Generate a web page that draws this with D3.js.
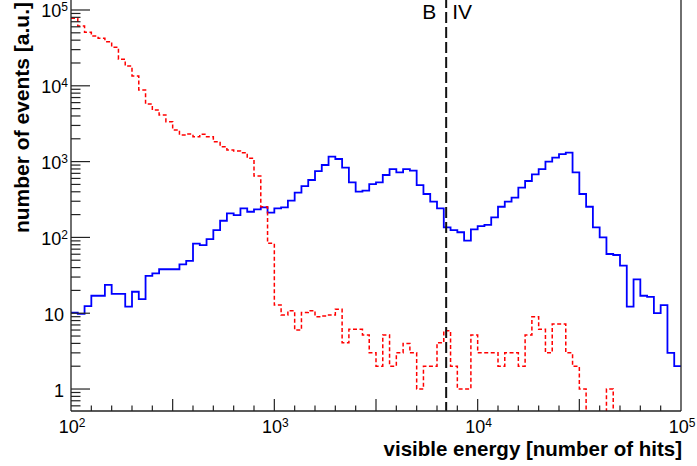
<!DOCTYPE html>
<html>
<head>
<meta charset="utf-8">
<script src="https://cdn.jsdelivr.net/npm/d3@7/dist/d3.min.js"></script>
<style>
  html, body { margin: 0; padding: 0; background: #fff; }
  svg { display: block; }
  text { font-family: "Liberation Sans", Arial, Helvetica, sans-serif; fill: #000; }
</style>
</head>
<body>
<script>
// ---------------- data ----------------
// histogram binned uniformly in log10(visible energy): 90 bins from 10^2 to 10^5
const binRange = [100, 100000];
const nBins = 90;

// solid blue histogram (number of events per bin)
const blueCounts = [
  10.2, 9.8, 12.4, 17, 17, 23.6, 18, 18, 12.2, 19.2,
  15.3, 31, 33.6, 38, 38, 38, 44, 49, 83, 79,
  95, 125, 166, 208, 197, 242, 218, 235, 249, 212,
  242, 249, 305, 389, 476, 572, 751, 902, 1161, 1082,
  832, 533, 401, 413, 506, 533, 666, 798, 722, 798,
  759, 491, 374, 296, 242, 136, 125, 117, 90.5, 128,
  141, 146, 184, 254, 296, 334, 453, 555, 679, 798,
  997, 1127, 1259, 1312, 722, 374, 254, 136, 100, 60.4,
  58.6, 42.4, 12.2, 28, 17, 16.4, 10, 12.8, 3.0, 2.0
];

// dashed red histogram
const redCounts = [
  77800, 61500, 50800, 45400, 42300, 38200, 32200, 22400, 18200, 13500,
  8810, 5750, 4800, 4120, 3360, 2610, 2240, 2310, 2130, 2290,
  2130, 1830, 1570, 1420, 1380, 1312, 1105, 646, 254, 83.6,
  12.8, 9.47, 10.8, 6.0, 10.2, 10.8, 9.0, 9.2, 9.5, 11.3,
  4.08, 6.13, 6.13, 5.16, 3.0, 2.0, 5.16, 2.0, 3.0, 4.0,
  3.0, 1.0, 2.0, 2.0, 4.08, 5.88, 2.0, 1.0, 1.0, 5.16,
  3, 3, 3, 2, 3, 3, 2, 5.16, 9.0, 6.13,
  3, 7.2, 7.2, 3, 2, 1, 0, 0, 0, 1,
  0, 0, 0, 0, 0, 0, 0, 0, 0, 0
];

// boundary between the "B" and "IV" regions
const boundaryValue = 7000;
const boundaryLabels = ["B", "IV"];

// axes
const xTickValues = [100, 1000, 10000, 100000];
const xTickExponents = ["2", "3", "4", "5"];
const yTickValues = [1, 10, 100, 1000, 10000, 100000];
const yTickBases = ["1", "10", "10", "10", "10", "10"];
const yTickExponents = ["", "", "2", "3", "4", "5"];
const xTitle = "visible energy [number of hits]";
const yTitle = "number of events [a.u.]";

// ---------------- drawing ----------------
const W = 697, H = 466;
const plot = { left: 71, right: 681, top: -3, bottom: 411 };

const svg = d3.select("body").append("svg")
  .attr("width", W).attr("height", H);

const x = d3.scaleLog().domain(binRange).range([plot.left, plot.right]);
const y = d3.scaleLog().domain([0.513, 148400]).range([plot.bottom, plot.top]);

// bin edges (uniform in log10)
const lg0 = Math.log10(binRange[0]), lg1 = Math.log10(binRange[1]);
const edges = d3.range(nBins + 1).map(k => Math.pow(10, lg0 + (lg1 - lg0) * k / nBins));

svg.append("clipPath").attr("id", "clip")
  .append("rect")
  .attr("x", plot.left).attr("y", plot.top)
  .attr("width", plot.right - plot.left).attr("height", plot.bottom - plot.top);

function stepPoints(counts) {
  const pts = [];
  counts.forEach((v, i) => {
    const yy = v > 0 ? y(v) : plot.bottom + 30;
    pts.push([x(edges[i]), yy]);
    pts.push([x(edges[i + 1]), yy]);
  });
  return pts;
}
const line = d3.line();

const g = svg.append("g").attr("clip-path", "url(#clip)");

g.append("path")
  .attr("d", line(stepPoints(blueCounts)))
  .attr("fill", "none")
  .attr("stroke", "#0000ff")
  .attr("stroke-width", 1.8)
  .attr("stroke-linejoin", "miter");

g.append("path")
  .attr("d", line(stepPoints(redCounts)))
  .attr("fill", "none")
  .attr("stroke", "#ff0000")
  .attr("stroke-width", 1.5)
  .attr("stroke-dasharray", "4,2.5");

// boundary dashed line
const bx = x(boundaryValue);
g.append("line")
  .attr("x1", bx).attr("x2", bx)
  .attr("y1", plot.top).attr("y2", plot.bottom)
  .attr("stroke", "#111")
  .attr("stroke-width", 2)
  .attr("stroke-dasharray", "11,4");

svg.append("text").attr("x", bx - 24).attr("y", 19)
  .attr("font-size", 21).text(boundaryLabels[0]);
svg.append("text").attr("x", bx + 6).attr("y", 19)
  .attr("font-size", 21).text(boundaryLabels[1]);

// frame
const axisColor = "#222";
svg.append("line").attr("x1", plot.left).attr("x2", plot.left)
  .attr("y1", plot.top).attr("y2", plot.bottom)
  .attr("stroke", axisColor).attr("stroke-width", 1.3);
svg.append("line").attr("x1", plot.right).attr("x2", plot.right)
  .attr("y1", plot.top).attr("y2", plot.bottom)
  .attr("stroke", axisColor).attr("stroke-width", 1.3);
svg.append("line").attr("x1", plot.left).attr("x2", plot.right)
  .attr("y1", plot.bottom).attr("y2", plot.bottom)
  .attr("stroke", axisColor).attr("stroke-width", 1.3);

// x ticks: every 0.1 in log10, longer every 0.5
const xTicks = d3.range(1, 30).map(k => ({ v: Math.pow(10, lg0 + k * 0.1), major: k % 5 === 0 }));
svg.append("g").selectAll("line").data(xTicks).join("line")
  .attr("x1", d => x(d.v)).attr("x2", d => x(d.v))
  .attr("y1", plot.bottom)
  .attr("y2", d => plot.bottom - (d.major ? 12 : 5.5))
  .attr("stroke", axisColor).attr("stroke-width", 1.2);

// x labels
const xl = svg.append("g").selectAll("text").data(xTickValues).join("text")
  .attr("x", d => x(d) + 1)
  .attr("y", 433)
  .attr("text-anchor", "middle")
  .attr("font-size", 18);
xl.append("tspan").text("10");
xl.append("tspan").attr("dy", -6).attr("font-size", 12).text((d, i) => xTickExponents[i]);

// y ticks
const yMajor = yTickValues;
const yMinor = [];
[-1, 0, 1, 2, 3, 4, 5].forEach(e => {
  for (let m = 2; m <= 9; m++) {
    const v = m * Math.pow(10, e);
    if (v > y.domain()[0] && v < y.domain()[1]) yMinor.push(v);
  }
});
svg.append("g").selectAll("line").data(yMinor).join("line")
  .attr("x1", plot.left).attr("x2", plot.left + 9.5)
  .attr("y1", d => y(d)).attr("y2", d => y(d))
  .attr("stroke", axisColor).attr("stroke-width", 1.2);
svg.append("g").selectAll("line").data(yMajor).join("line")
  .attr("x1", plot.left).attr("x2", plot.left + 19)
  .attr("y1", d => y(d)).attr("y2", d => y(d))
  .attr("stroke", axisColor).attr("stroke-width", 1.2);

// y labels
const yl = svg.append("g").selectAll("text").data(yTickValues).join("text")
  .attr("x", (d, i) => yTickExponents[i] ? plot.left - 3 : plot.left - 7)
  .attr("y", d => y(d) + 7.5)
  .attr("text-anchor", "end")
  .attr("font-size", 18);
yl.append("tspan").text((d, i) => yTickBases[i]);
yl.filter((d, i) => yTickExponents[i] !== "")
  .append("tspan").attr("dy", -6).attr("font-size", 12)
  .text(d => yTickExponents[yTickValues.indexOf(d)]);

// axis titles
svg.append("text")
  .attr("x", 682).attr("y", 456)
  .attr("text-anchor", "end")
  .attr("font-size", 20.5).attr("font-weight", "bold")
  .text(xTitle);

svg.append("text")
  .attr("transform", "translate(28.5,2) rotate(-90)")
  .attr("text-anchor", "end")
  .attr("font-size", 21).attr("font-weight", "bold")
  .text(yTitle);
</script>
</body>
</html>
